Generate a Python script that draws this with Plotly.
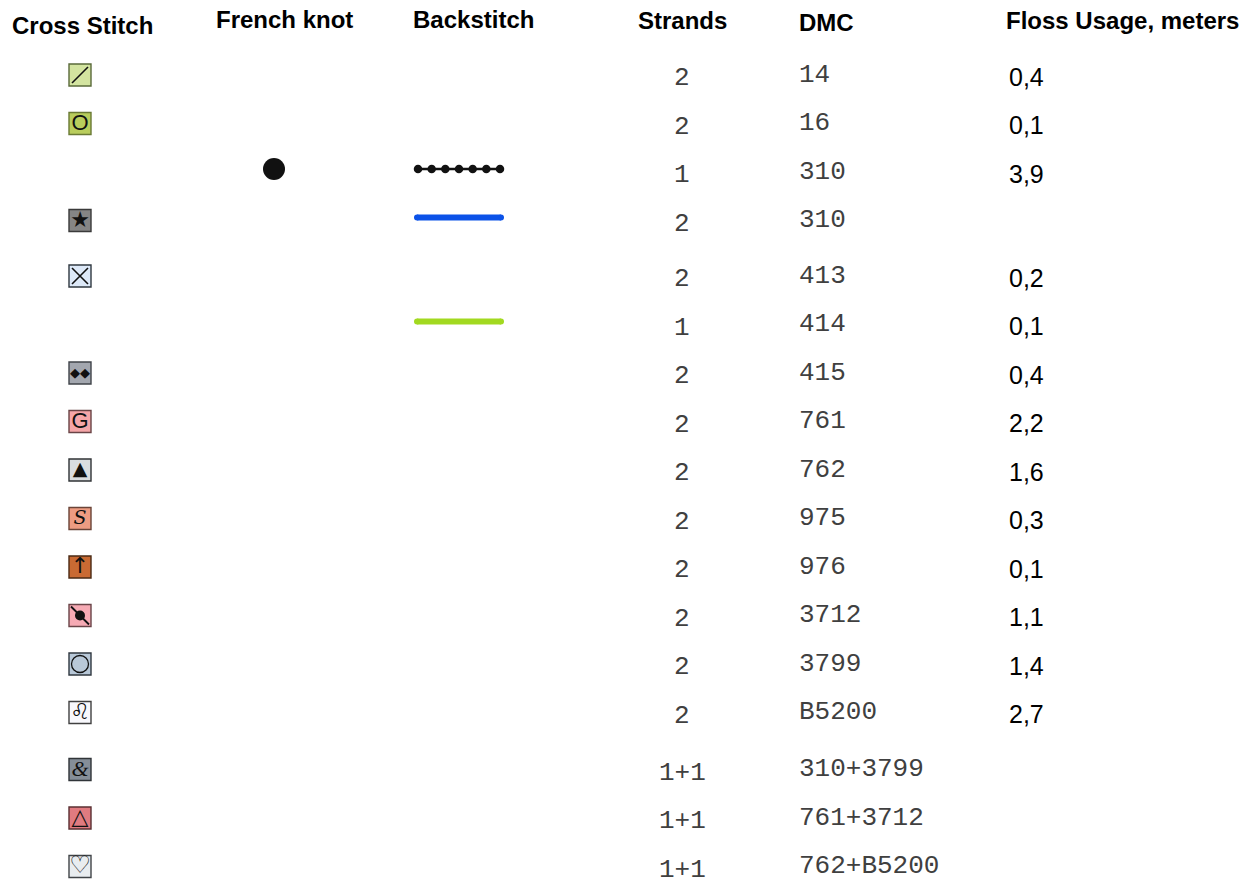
import numpy as np
import plotly.graph_objects as go

# ---------------- data ----------------
headers = ["Cross Stitch", "French knot", "Backstitch", "Strands", "DMC", "Floss Usage, meters"]
strands = ["2", "2", "1", "2", "2", "1", "2", "2", "2", "2", "2", "2", "2", "2", "1+1", "1+1", "1+1"]
dmc = ["14", "16", "310", "310", "413", "414", "415", "761", "762", "975", "976", "3712", "3799",
       "B5200", "310+3799", "761+3712", "762+B5200"]
floss = ["0,4", "0,1", "3,9", "", "0,2", "0,1", "0,4", "2,2", "1,6", "0,3", "0,1", "1,1", "1,4",
         "2,7", "", "", ""]
cross_symbol = ["/", "O", None, "★", "X", None, "◆◆", "G", "▲", "S", "↑", "planet", "ring", "♌",
                "&", "△", "♡"]
cross_fill = ["#d3e4a0", "#b9cd5c", None, "#858585", "#dde9f8", None, "#a3a7af", "#f5a6a8", "#d9dde0",
              "#ee9c82", "#c96a33", "#f6aab4", "#b8c8d8", "#f8f8fc", "#858e98", "#e07b80", "#e9edf0"]
cross_border = ["#5a6a3a", "#6a7a35", None, "#3a3a3a", "#303840", None, "#40444a", "#6a4446", "#303336",
                "#6a4438", "#4a2a14", "#6a4448", "#303840", "#404040", "#303438", "#5a3032", "#404448"]
french_knot_rows = [2]
backstitch_rows = [2, 3, 5]
backstitch_color = ["#111111", "#0b52e8", "#a2d920"]
backstitch_style = ["beads", "solid", "solid"]

# ---------------- layout helpers ----------------
W, H = 1252, 885
ROW0, STEP = 75, 48.5
EXTRA = {4: 7, 14: 8.5}


def row_y(i):
    return ROW0 + STEP * i + sum(v for k, v in EXTRA.items() if i >= k)


X_CROSS, X_KNOT = 80, 274
X_BS0, X_BS1 = 414, 504
X_STRANDS, X_DMC, X_FLOSS = 682, 797, 1007
STITCH_DY = -3

fig = go.Figure()

# cross-stitch boxes
rows_c = [i for i, s in enumerate(cross_symbol) if s is not None]
fig.add_trace(go.Scatter(
    x=[X_CROSS] * len(rows_c), y=[row_y(i) for i in rows_c], mode="markers",
    marker=dict(symbol="square", size=22, color=[cross_fill[i] for i in rows_c],
                line=dict(color=[cross_border[i] for i in rows_c], width=1.4)),
    hoverinfo="skip"))

INK = "#111111"
marker_glyph = {
    "/": [dict(symbol="line-ne", size=16, color=INK, line=dict(color=INK, width=1.6))],
    "X": [dict(symbol="x-thin", size=16, color=INK, line=dict(color=INK, width=1.6))],
    "planet": [dict(symbol="line-nw", size=18, color=INK, line=dict(color=INK, width=1.8)),
               dict(symbol="circle", size=10, color=INK, line=dict(width=0))],
    "ring": [dict(symbol="circle-open", size=17, color=INK, line=dict(color=INK, width=1.3))],
}
text_size = {"O": 22, "★": 22, "◆◆": 13, "G": 22, "▲": 19, "S": 19, "↑": 22,
             "♌": 22, "&": 22, "△": 22, "♡": 24}
text_font = {"O": "Liberation Sans", "G": "Liberation Sans", "&": "Liberation Serif",
             "S": "DejaVu Serif"}
for i in rows_c:
    s = cross_symbol[i]
    y = row_y(i)
    if s in marker_glyph:
        for m in marker_glyph[s]:
            fig.add_trace(go.Scatter(x=[X_CROSS], y=[y], mode="markers", marker=m, hoverinfo="skip"))
    else:
        fig.add_trace(go.Scatter(
            x=[X_CROSS], y=[y + 0.5], mode="text", text=[s], textposition="middle center",
            textfont=dict(size=text_size[s], color=INK, family=text_font.get(s, "DejaVu Sans"),
                          style="italic" if s in ("S", "&") else "normal"),
            hoverinfo="skip"))

# french knots
fig.add_trace(go.Scatter(
    x=[X_KNOT] * len(french_knot_rows), y=[row_y(i) + STITCH_DY for i in french_knot_rows],
    mode="markers", marker=dict(symbol="circle", size=22, color=INK), hoverinfo="skip"))

# backstitch
for r, c, st in zip(backstitch_rows, backstitch_color, backstitch_style):
    y = row_y(r) + STITCH_DY
    if st == "beads":
        xs = np.linspace(X_BS0 + 4, X_BS1 - 4, 7)
        fig.add_trace(go.Scatter(x=xs, y=[y] * len(xs), mode="lines+markers",
                                 line=dict(color=c, width=2.5),
                                 marker=dict(size=8.5, color=c), hoverinfo="skip"))
    else:
        fig.add_trace(go.Scatter(x=[X_BS0 + 3, X_BS1 - 3], y=[y, y], mode="lines+markers",
                                 line=dict(color=c, width=6),
                                 marker=dict(size=6, color=c), hoverinfo="skip"))

# headers
hdr_pos = [(10, 25, "left"), (214, 19, "left"), (411, 19, "left"), (682, 20, "center"),
           (797, 22, "left"), (1004, 20, "left")]
for h, (x, y, anc) in zip(headers, hdr_pos):
    fig.add_annotation(x=x, y=y, text="<b>%s</b>" % h, showarrow=False, xanchor=anc, yanchor="middle",
                       font=dict(family="Liberation Sans", size=24, color="#000000"))

# table text
for i in range(len(dmc)):
    y = row_y(i)
    fig.add_annotation(x=X_STRANDS, y=y + 3, text=strands[i], showarrow=False, xanchor="center",
                       yanchor="middle", font=dict(family="Liberation Mono", size=26, color="#404040"))
    fig.add_annotation(x=X_DMC, y=y - 0.5, text=dmc[i], showarrow=False, xanchor="left",
                       yanchor="middle", font=dict(family="Liberation Mono", size=26, color="#404040"))
    if floss[i]:
        fig.add_annotation(x=X_FLOSS, y=y + 1.5, text=floss[i], showarrow=False, xanchor="left",
                           yanchor="middle", font=dict(family="Liberation Sans", size=25, color="#000000"))

fig.update_layout(
    width=W, height=H, margin=dict(l=0, r=0, t=0, b=0), showlegend=False,
    paper_bgcolor="white", plot_bgcolor="white",
    xaxis=dict(range=[0, W], visible=False, fixedrange=True),
    yaxis=dict(range=[H, 0], visible=False, fixedrange=True),
)
fig.write_html("out.html", config={"displayModeBar": False},
               post_script="document.body.style.margin='0';document.body.style.overflow='hidden';")
